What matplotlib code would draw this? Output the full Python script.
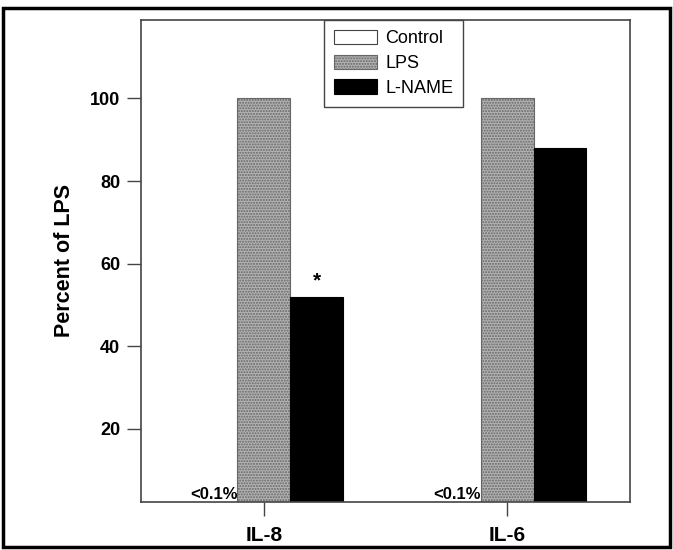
import matplotlib
matplotlib.use("Agg")
import matplotlib.pyplot as plt
import numpy as np
from matplotlib.patches import Rectangle

plt.rcParams['font.family'] = ['Liberation Sans', 'DejaVu Sans']

categories = ["IL-8", "IL-6"]
series_names = ["Control", "LPS", "L-NAME"]
control = [0.0, 0.0]
lps = [100.0, 100.0]
lname = [52.0, 88.0]
yticks = [20, 40, 60, 80, 100]

fig = plt.figure(figsize=(6.73, 5.5), dpi=100)
ax = fig.add_axes([0.2095, 0.0873, 0.7266, 0.8764])

x = np.arange(len(categories))
w = 0.218
ax.bar(x - w, control, w, facecolor='white', edgecolor='#444444', linewidth=0.8, label=series_names[0])
ax.bar(x, lps, w, facecolor='#b3b3b3', edgecolor='#666666', hatch='......', linewidth=0.8, label=series_names[1])
ax.bar(x + w, lname, w, facecolor='black', edgecolor='black', linewidth=0.8, label=series_names[2])

for xi in x:
    ax.text(xi - w / 2, 2.3, "<0.1%", ha='right', va='bottom', fontsize=12, fontweight='bold')
ax.text(x[0] + w, lname[0] + 1.5, "*", ha='center', va='bottom', fontsize=15, fontweight='bold')

ax.set_xlim(-0.506, 1.506)
ax.set_ylim(2.3, 119)
ax.set_xticks(x)
ax.set_xticklabels(categories, fontsize=15, fontweight='bold')
ax.set_yticks(yticks)
ax.set_yticklabels([str(t) for t in yticks], fontsize=13, fontweight='bold')
ax.tick_params(axis='y', length=10, width=1, color='#444444', pad=5)
ax.tick_params(axis='x', length=10, width=1, color='#444444', pad=7)
ax.set_ylabel("Percent of LPS", fontsize=15.5, fontweight='bold', labelpad=11)
for s in ax.spines.values():
    s.set_color('#444444')
    s.set_linewidth(1.2)

leg = ax.legend(loc='upper left', bbox_to_anchor=(0.374, 1.0), borderaxespad=0,
                fontsize=13, handlelength=2.4, handleheight=0.85, labelspacing=0.4,
                fancybox=False, framealpha=1, edgecolor='#444444', borderpad=0.55,
                handletextpad=0.45)
leg.get_frame().set_linewidth(1.0)

fig.patches.append(Rectangle((0.004, 0.006), 0.992, 0.98, transform=fig.transFigure,
                             fill=False, edgecolor='black', linewidth=2.5))

fig.savefig("out.png", dpi=100)
